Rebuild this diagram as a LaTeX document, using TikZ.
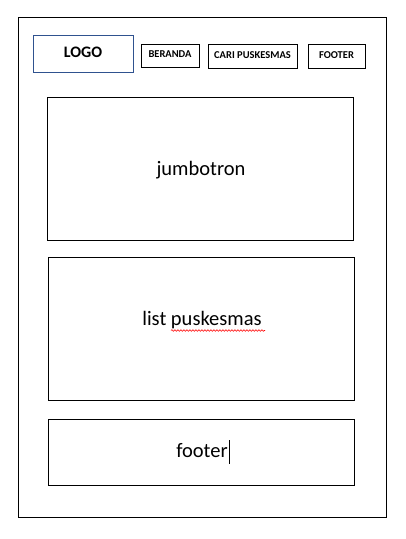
\documentclass[tikz,border=0pt]{standalone}
\usepackage{fontspec}
\setmainfont{Carlito}
\usetikzlibrary{decorations.pathmorphing}
\definecolor{logoblue}{RGB}{47,82,143}
\tikzset{
  frame/.style={draw=black, line width=1pt},
  section/.style={draw=black, line width=0.9pt, inner sep=0pt},
  menubtn/.style={draw=black, line width=0.9pt, inner sep=0pt, font=\bfseries\fontsize{10.5}{12}\selectfont},
  sectiontext/.style={font=\fontsize{20.5}{24}\selectfont, inner sep=0pt, anchor=base}
}
\begin{document}
\begin{tikzpicture}[x=1pt, y=-1pt]
  \useasboundingbox (0,0) rectangle (405,539);
  % page outline
  \draw[frame] (18,17) rectangle (386,517);
  % header
  \node[draw=logoblue, line width=1pt, minimum width=100pt, minimum height=37pt, inner sep=0pt,
        font=\bfseries\fontsize{16}{18}\selectfont] (logo) at (83,53.5) {\raisebox{3pt}{LOGO}};
  \node[menubtn, minimum width=58pt, minimum height=23pt] (beranda) at (170,55.5) {\raisebox{2pt}{BERANDA}};
  \node[menubtn, minimum width=89pt, minimum height=24pt] (cari) at (252.5,56) {\raisebox{2pt}{CARI PUSKESMAS}};
  \node[menubtn, minimum width=57pt, minimum height=24pt] (footerbtn) at (336.5,56) {\raisebox{2pt}{FOOTER}};
  % content sections
  \node[section, minimum width=306pt, minimum height=143pt] (jumbo) at (200,168.5) {};
  \node[section, minimum width=306pt, minimum height=143pt] (list) at (201,328.5) {};
  \node[section, minimum width=306pt, minimum height=66pt] (footer) at (201,452) {};
  \node[sectiontext] (jumbotxt) at (201,175.5) {jumbotron};
  \node[sectiontext] (listtxt) at (202,325) {list puskesmas};
  \node[sectiontext] (footertxt) at (202,457.5) {footer};
  % spell-check underline and text cursor
  \draw[red, line width=0.6pt, decorate, decoration={snake, amplitude=0.8pt, segment length=3pt}]
    (171,330.5) -- (265,330.5);
  \draw[black, line width=0.8pt] ([xshift=1.5pt]footertxt.east |- 0,440) -- ([xshift=1.5pt]footertxt.east |- 0,464);
\end{tikzpicture}
\end{document}
